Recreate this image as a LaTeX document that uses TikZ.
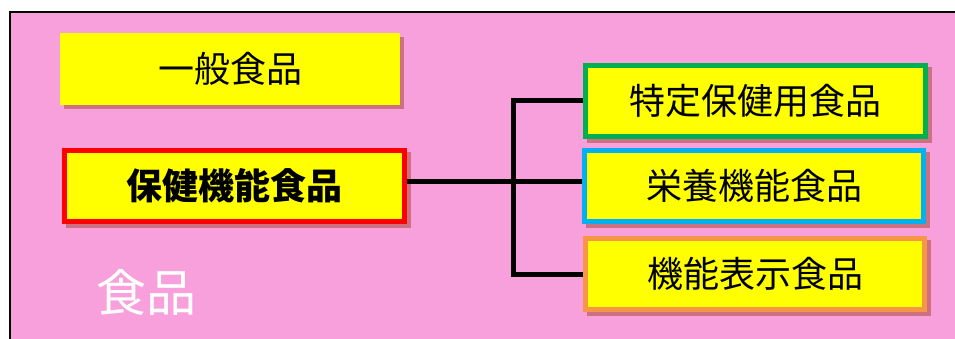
\documentclass[tikz,border=0pt]{standalone}
\usepackage{fontspec}
\setmainfont{Noto Sans CJK JP}
\usetikzlibrary{backgrounds,calc}
\definecolor{bgpink}{RGB}{248,160,220}
\definecolor{boxyellow}{RGB}{255,255,0}
\definecolor{shadowc}{RGB}{205,112,128}
\definecolor{cgreen}{RGB}{0,176,80}
\definecolor{ccyan}{RGB}{0,176,240}
\definecolor{corange}{RGB}{247,150,70}
\tikzset{
  box/.style={rectangle, fill=boxyellow, minimum width=340pt, minimum height=71pt,
    inner sep=0pt, font=\fontsize{36}{40}\selectfont, text=black},
  framed/.style={box, draw=#1, line width=5pt},
  conn/.style={draw=black, line width=5pt, line join=miter},
}
\begin{document}
\begin{tikzpicture}[x=1pt,y=-1pt]
\useasboundingbox (0,0) rectangle (955,339);
\clip (0,0) rectangle (955,339);

\node[box, minimum height=72pt] (gen) at (230,69) {一般食品};
\node[framed=red, font=\fontsize{36}{40}\selectfont\bfseries] (hoken) at (234.5,186) {保健機能食品};
\node[framed=cgreen] (toku) at (755.5,101) {特定保健用食品};
\node[framed=ccyan, minimum width=339pt] (eiyo) at (754,186) {栄養機能食品};
\node[framed=corange, minimum width=339pt] (kino) at (755,274) {機能表示食品};
\node[text=white, font=\fontsize{50}{56}\selectfont, inner sep=0pt] (food) at (146,292) {食品};

\coordinate (j) at (513,182);
\draw[conn] ([yshift=4pt]hoken.east) -- ([yshift=4pt]eiyo.west);
\draw[conn] (toku.west) -- (toku.west -| j) -- (kino.west -| j) -- (kino.west);

\begin{scope}[on background layer]
  \filldraw[fill=bgpink, draw=black, line width=2pt] (10,12) rectangle (975,360);
  \foreach \n in {gen,hoken,toku,eiyo,kino}{
    \fill[shadowc] ($(\n.north west)+(4,4)$) rectangle ($(\n.south east)+(4,4)$);
  }
\end{scope}
\end{tikzpicture}
\end{document}
